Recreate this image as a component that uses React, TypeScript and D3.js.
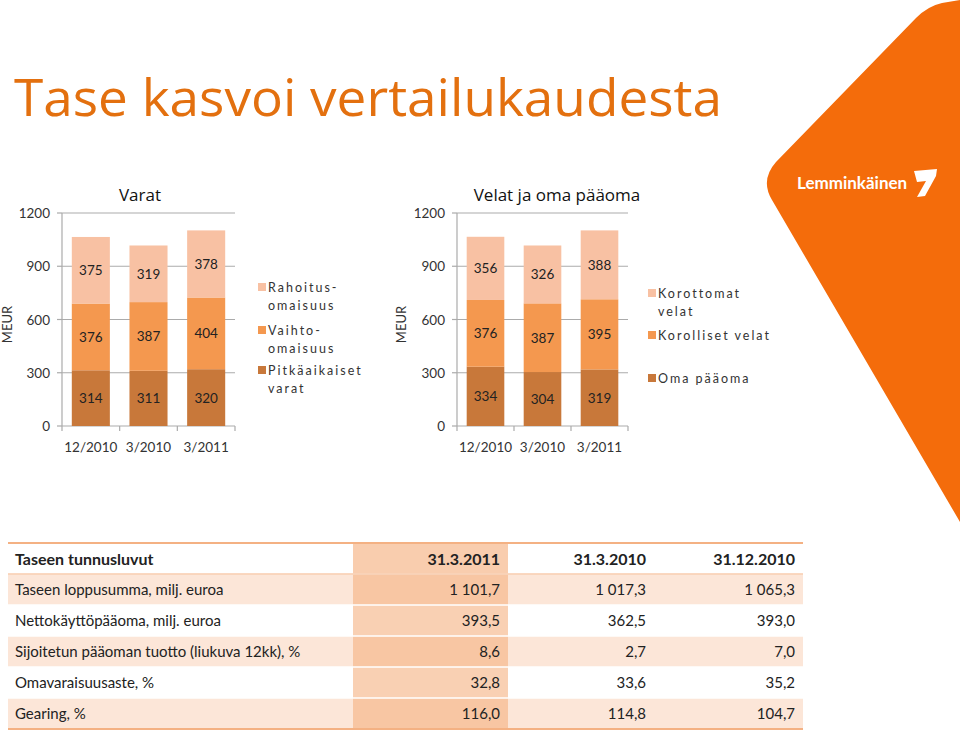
import React from 'react';
import * as d3 from 'd3';

// chart data
const periods = ['12/2010', '3/2010', '3/2011'];
const yTicks = [0, 300, 600, 900, 1200];

// Varat
const longTermAssets = [314, 311, 320];
const inventories = [376, 387, 404];
const financialAssets = [375, 319, 378];
const assetLegend = [['Rahoitus-', 'omaisuus'], ['Vaihto-', 'omaisuus'], ['Pitkäaikaiset', 'varat']];

// Velat ja oma pääoma
const equity = [334, 304, 319];
const interestBearing = [376, 387, 395];
const nonInterestBearing = [356, 326, 388];
const liabilityLegend = [['Korottomat', 'velat'], ['Korolliset velat'], ['Oma pääoma']];

// table
const tableTitle = 'Taseen tunnusluvut';
const tableDates = ['31.3.2011', '31.3.2010', '31.12.2010'];
const rowLabels = [
  'Taseen loppusumma, milj. euroa',
  'Nettokäyttöpääoma, milj. euroa',
  'Sijoitetun pääoman tuotto (liukuva 12kk), %',
  'Omavaraisuusaste, %',
  'Gearing, %',
];
const values2011_3 = ['1 101,7', '393,5', '8,6', '32,8', '116,0'];
const values2010_3 = ['1 017,3', '362,5', '2,7', '33,6', '114,8'];
const values2010_12 = ['1 065,3', '393,0', '7,0', '35,2', '104,7'];

const colors = ['#C8783A', '#F4984F', '#F8C1A3'];
const gridColor = '#ABABAB';
const textColor = '#333';
const font = 'Lato, "Open Sans", sans-serif';
const titleFont = '"Open Sans", sans-serif';

type ChartProps = {
  axisX: number;
  plotRight: number;
  title: string;
  titleX: number;
  series: number[][];
  legend: string[][];
  legendX: number;
  legendY: number[];
  meurX: number;
};

const StackedChart = ({ axisX, plotRight, title, titleX, series, legend, legendX, legendY, meurX }: ChartProps) => {
  const y = d3.scaleLinear().domain([0, 1200]).range([426, 213]);
  const x = d3.scaleBand<string>().domain(periods).range([axisX, plotRight]).paddingInner(0.34).paddingOuter(0.17);
  const rows = periods.map((p, i) => {
    const r: any = { period: p };
    series.forEach((s, k) => (r['s' + k] = s[i]));
    return r;
  });
  const stack = d3.stack<any>().keys(series.map((_, k) => 's' + k))(rows);
  const step = x.step();
  const bounds = d3.range(periods.length + 1).map(i => axisX + i * step);

  return (
    <g fontFamily={font}>
      <text x={titleX} y={201} textAnchor="middle" fontSize={17} fontFamily={titleFont} fill="#111">{title}</text>
      {yTicks.map(t => (
        <g key={t}>
          {t > 0 && <line x1={axisX} x2={plotRight} y1={y(t)} y2={y(t)} stroke={gridColor} strokeWidth={1.2} />}
          <line x1={axisX - 5} x2={axisX} y1={y(t)} y2={y(t)} stroke={gridColor} strokeWidth={1.2} />
          <text x={axisX - 12} y={y(t) + 5} textAnchor="end" fontSize={13.5} fill={textColor}>{t}</text>
        </g>
      ))}
      <line x1={axisX} x2={axisX} y1={y(1200)} y2={y(0)} stroke={gridColor} strokeWidth={1.2} />
      <line x1={axisX} x2={plotRight} y1={y(0)} y2={y(0)} stroke={gridColor} strokeWidth={1.2} />
      {bounds.map((bx, i) => (
        <line key={i} x1={bx} x2={bx} y1={y(0)} y2={y(0) + 5} stroke={gridColor} strokeWidth={1.2} />
      ))}
      <text transform={`translate(${meurX},${(y(0) + y(1200)) / 2 + 5}) rotate(-90)`} textAnchor="middle" fontSize={13} fill={textColor}>MEUR</text>
      {stack.map((layer, k) => (
        <g key={k}>
          {layer.map((d, i) => (
            <g key={i}>
              <rect x={x(periods[i])} width={x.bandwidth()} y={y(d[1])} height={y(d[0]) - y(d[1])} fill={colors[k]} />
              <text x={(x(periods[i]) as number) + x.bandwidth() / 2} y={y((d[0] + d[1]) / 2) + 5} textAnchor="middle" fontSize={13.5} fill="#222">
                {series[k][i]}
              </text>
            </g>
          ))}
        </g>
      ))}
      {periods.map(p => (
        <text key={p} x={(x(p) as number) + x.bandwidth() / 2} y={452} textAnchor="middle" fontSize={13.5} fill={textColor}>{p}</text>
      ))}
      {legend.map((lines, k) => (
        <g key={k}>
          <rect x={legendX} y={legendY[k] - 5} width={8} height={8} fill={colors[series.length - 1 - k]} />
          {lines.map((ln, j) => (
            <text key={j} x={legendX + 10} y={legendY[k] + 4 + j * 18} fontSize={12.5} letterSpacing={2} fill={textColor}>{ln}</text>
          ))}
        </g>
      ))}
    </g>
  );
};

const Table = () => {
  const left = 8, right = 803, top = 543, headerH = 31, rowH = 31;
  const colRights = [500, 646, 795];
  const hlX0 = 353, hlX1 = 508;
  const cols = [values2011_3, values2010_3, values2010_12];
  return (
    <g fontFamily={font} fill="#222">
      <rect x={hlX0} y={top} width={hlX1 - hlX0} height={headerH} fill="#F9CDAE" />
      {rowLabels.map((lab, i) => {
        const ry = top + headerH + i * rowH;
        return (
          <g key={lab}>
            <rect x={left} y={ry} width={right - left} height={rowH} fill={i % 2 === 0 ? '#FCE6D8' : '#FFFFFF'} />
            <rect x={hlX0} y={ry} width={hlX1 - hlX0} height={rowH} fill={i % 2 === 0 ? '#F8C6A3' : '#F9D0B3'} />
            <line x1={left} x2={right} y1={ry} y2={ry} stroke="#fff" strokeWidth={1.5} />
            <text x={15} y={ry + 21} fontSize={15}>{lab}</text>
            {cols.map((c, j) => (
              <text key={j} x={colRights[j]} y={ry + 21} fontSize={15} textAnchor="end">{c[i]}</text>
            ))}
          </g>
        );
      })}
      <line x1={left} x2={right} y1={top} y2={top} stroke="#F4B183" strokeWidth={2} />
      <line x1={left} x2={right} y1={top + headerH} y2={top + headerH} stroke="#F4B183" strokeWidth={1} />
      <line x1={left} x2={right} y1={top + headerH + rowLabels.length * rowH} y2={top + headerH + rowLabels.length * rowH} stroke="#F4B183" strokeWidth={2} />
      <text x={15} y={top + 22} fontSize={16} fontWeight="bold">{tableTitle}</text>
      {tableDates.map((d, j) => (
        <text key={d} x={colRights[j]} y={top + 22} fontSize={16} fontWeight="bold" textAnchor="end">{d}</text>
      ))}
    </g>
  );
};

const App: React.FC = () => {
  return (
    <svg width={960} height={733} style={{ position: 'absolute', left: 0, top: 0 }}>
      <rect width={960} height={733} fill="#fff" />
      <path d="M960 0 L942 3 Q928 6 916 18 L776 162 Q760 180 772 200 L960 522 Z" fill="#F46C0B" />
      <text x={797} y={189} fontFamily={font} fontSize={17} fill="#fff" fontWeight="bold">Lemminkäinen</text>
      <path d="M914 171 L937 169 L936 176 L925 196 L917 197 L926 181 L917 182 Z" fill="#fff" />
      <text x={14} y={116} fontFamily={titleFont} fontSize={52} fill="#E3700F" textLength={708} lengthAdjust="spacingAndGlyphs">Tase kasvoi vertailukaudesta</text>
      <StackedChart
        axisX={62} plotRight={235} title="Varat" titleX={140}
        series={[longTermAssets, inventories, financialAssets]}
        legend={assetLegend} legendX={258} legendY={[288, 331, 371]} meurX={12}
      />
      <StackedChart
        axisX={457} plotRight={628} title="Velat ja oma pääoma" titleX={557}
        series={[equity, interestBearing, nonInterestBearing]}
        legend={liabilityLegend} legendX={648} legendY={[294, 336, 379]} meurX={406}
      />
      <Table />
    </svg>
  );
};

export default App;
